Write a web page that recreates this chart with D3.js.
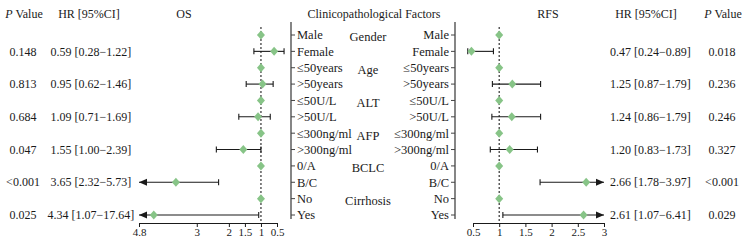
<!DOCTYPE html>
<html>
<head>
<meta charset="utf-8">
<script src="https://cdn.jsdelivr.net/npm/d3@7"></script>
<style>
  body { margin: 0; background: #fff; }
  svg { display: block; font-family: "Liberation Serif", "Times New Roman", serif; }
  text { fill: #1a1a1a; }
</style>
</head>
<body>
<svg id="forest" width="751" height="243"></svg>
<script>
// ---- data ----
const leftLabels = ["Male", "Female", "≤50years", ">50years", "≤50U/L", ">50U/L",
  "≤300ng/ml", ">300ng/ml", "0/A", "B/C", "No", "Yes"];
const groups = ["Gender", "Age", "ALT", "AFP", "BCLC", "Cirrhosis"];

const osHR   = [1, 0.59, 1, 0.95, 1, 1.09, 1, 1.55, 1, 3.65, 1, 4.34];
const osLow  = [null, 0.28, null, 0.62, null, 0.71, null, 1.00, null, 2.32, null, 1.07];
const osHigh = [null, 1.22, null, 1.46, null, 1.69, null, 2.39, null, 5.73, null, 17.64];
const osP    = ["0.148", "0.813", "0.684", "0.047", "<0.001", "0.025"];

const rfsHR   = [1, 0.47, 1, 1.25, 1, 1.24, 1, 1.20, 1, 2.66, 1, 2.61];
const rfsLow  = [null, 0.24, null, 0.87, null, 0.86, null, 0.83, null, 1.78, null, 1.07];
const rfsHigh = [null, 0.89, null, 1.79, null, 1.79, null, 1.73, null, 3.97, null, 6.41];
const rfsP    = ["0.018", "0.236", "0.246", "0.327", "<0.001", "0.029"];

const osTicks  = [4.8, 3, 2, 1.5, 1, 0.5];
const rfsTicks = [0.5, 1, 1.5, 2, 2.5, 3];

// ---- layout ----
const svg = d3.select("#forest");
const green = "#87c487";
const ink = "#1a1a1a";

const y = d3.scalePoint().domain(d3.range(leftLabels.length)).range([35, 215]);
const axisY = 223;

function fmtCI(h, l, u) {
  return h.toFixed(2) + " [" + l.toFixed(2) + "\u2212" + u.toFixed(2) + "]";
}

// header
const header = svg.append("g").attr("font-size", 12);
function pValueHeader(x) {
  const t = header.append("text").attr("x", x).attr("y", 18).attr("text-anchor", "middle");
  t.append("tspan").attr("font-style", "italic").text("P");
  t.append("tspan").text(" Value");
}
pValueHeader(24);
pValueHeader(723);
header.append("text").attr("x", 89).attr("y", 18).attr("text-anchor", "middle").text("HR [95%CI]");
header.append("text").attr("x", 646).attr("y", 18).attr("text-anchor", "middle").text("HR [95%CI]");
header.append("text").attr("x", 184).attr("y", 18).attr("text-anchor", "middle").text("OS");
header.append("text").attr("x", 548).attr("y", 18).attr("text-anchor", "middle").text("RFS");
header.append("text").attr("x", 374).attr("y", 18).attr("text-anchor", "middle").text("Clinicopathological Factors");

// centre panel with factor labels
const mid = svg.append("g").attr("font-size", 12.5);
const lx = 291, rx = 455;
[lx, rx].forEach(x => {
  mid.append("line").attr("x1", x).attr("x2", x).attr("y1", 22).attr("y2", 219)
    .attr("stroke", "#444").attr("stroke-width", 1.3);
});
leftLabels.forEach((lab, i) => {
  mid.append("line").attr("x1", lx).attr("x2", lx + 4).attr("y1", y(i)).attr("y2", y(i))
    .attr("stroke", "#444");
  mid.append("line").attr("x1", rx - 4).attr("x2", rx).attr("y1", y(i)).attr("y2", y(i))
    .attr("stroke", "#444");
  mid.append("text").attr("x", lx + 6).attr("y", y(i)).attr("dy", "0.35em").text(lab);
  mid.append("text").attr("x", rx - 6).attr("y", y(i)).attr("dy", "0.35em")
    .attr("text-anchor", "end").text(lab);
});
groups.forEach((g, k) => {
  mid.append("text").attr("x", 368).attr("y", y(2 * k) + 2).attr("dy", "0.35em")
    .attr("text-anchor", "middle").text(g);
});

// one forest panel
function forest(opts) {
  const { hr, low, high, ticks, x, lo, hi, p, pX, ciX, ciAnchor } = opts;
  const g = svg.append("g");

  // axis
  const axis = d3.axisBottom(x).tickValues(ticks).tickFormat(d3.format("")).tickSize(4).tickSizeOuter(0);
  const ax = g.append("g").attr("transform", "translate(0," + axisY + ")").call(axis);
  ax.select(".domain").attr("stroke", ink);
  ax.selectAll(".tick line").attr("stroke", ink);
  ax.selectAll(".tick text").attr("font-size", 11).attr("font-family", "Liberation Serif").attr("fill", ink).attr("dy", "0.55em");

  // reference line at HR = 1
  g.append("line").attr("x1", x(1)).attr("x2", x(1)).attr("y1", 27).attr("y2", axisY)
    .attr("stroke", "#333").attr("stroke-width", 1.2).attr("stroke-dasharray", "2,2");

  hr.forEach((h, i) => {
    const yy = y(i);
    if (low[i] != null) {
      const a = Math.max(Math.min(low[i], high[i]), lo);
      const b = Math.min(high[i], hi);
      g.append("line").attr("x1", x(a)).attr("x2", x(b)).attr("y1", yy).attr("y2", yy)
        .attr("stroke", ink).attr("stroke-width", 1.1);
      // lower cap
      g.append("line").attr("x1", x(a)).attr("x2", x(a)).attr("y1", yy - 3).attr("y2", yy + 3)
        .attr("stroke", ink).attr("stroke-width", 1.1);
      if (high[i] > hi) {
        // arrow at the axis limit
        const tip = x(hi);
        const dir = Math.sign(x(hi) - x(1));
        g.append("path")
          .attr("d", "M" + tip + "," + yy + " L" + (tip - dir * 8) + "," + (yy - 3.5) +
            " L" + (tip - dir * 8) + "," + (yy + 3.5) + "Z")
          .attr("fill", ink);
      } else {
        g.append("line").attr("x1", x(b)).attr("x2", x(b)).attr("y1", yy - 3).attr("y2", yy + 3)
          .attr("stroke", ink).attr("stroke-width", 1.1);
      }
      // text columns
      const k = (i - 1) / 2;
      g.append("text").attr("x", ciX).attr("y", yy).attr("dy", "0.35em").attr("font-size", 12)
        .attr("text-anchor", ciAnchor).text(fmtCI(h, low[i], high[i]));
      g.append("text").attr("x", pX).attr("y", yy).attr("dy", "0.35em").attr("font-size", 12)
        .attr("text-anchor", "middle").text(p[k]);
    }
    g.append("path")
      .attr("transform", "translate(" + x(h) + "," + yy + ")")
      .attr("d", "M0,-4.5L4,0L0,4.5L-4,0Z")
      .attr("fill", green);
  });
}

forest({
  hr: osHR, low: osLow, high: osHigh, p: osP, ticks: osTicks,
  x: d3.scaleLinear().domain([4.8, 0.5]).range([139, 277]),
  lo: 0.25, hi: 4.8, pX: 23, ciX: 91, ciAnchor: "middle"
});
forest({
  hr: rfsHR, low: rfsLow, high: rfsHigh, p: rfsP, ticks: rfsTicks,
  x: d3.scaleLinear().domain([0.5, 3]).range([473, 604]),
  lo: 0.4, hi: 3, pX: 722, ciX: 610, ciAnchor: "start"
});
</script>
</body>
</html>
